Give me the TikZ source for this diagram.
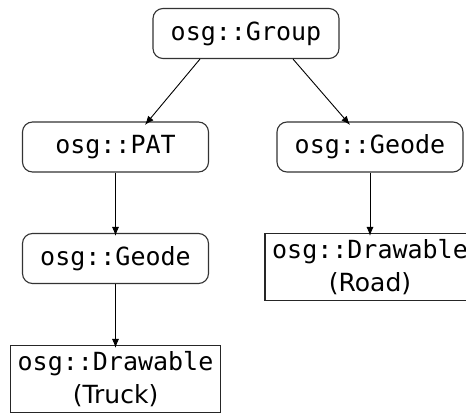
\documentclass[tikz,border=0pt]{standalone}
\usepackage{fontspec}
\setmonofont{DejaVu Sans Mono}
\setsansfont{DejaVu Sans}
\usetikzlibrary{arrows.meta}

\tikzset{
  cls/.style={draw=black!80, line width=1.1pt, rounded corners=10pt,
    minimum width=186pt, minimum height=50pt, inner sep=0pt,
    font=\ttfamily\fontsize{25}{30}\selectfont},
  drw/.style={draw=black!85, line width=1.1pt,
    minimum width=210pt, minimum height=67pt, inner sep=0pt, align=center,
    font=\fontsize{25}{33}\selectfont},
  link/.style={draw=black, line width=0.9pt, -{Latex[length=9pt,width=7pt]}}
}

\begin{document}
\begin{tikzpicture}[x=1pt, y=-1pt]
  \useasboundingbox (0,0) rectangle (466,414);

  % scene graph nodes
  \node[cls] (grp)  at (246,33.5)  {osg::Group};
  \node[cls] (pat)  at (115.5,147) {osg::PAT};
  \node[cls] (geoR) at (370,147)   {osg::Geode};
  \node[cls] (geoL) at (115.5,258.5) {osg::Geode};
  \node[drw] (road)  at (370,267)   {\ttfamily osg::Drawable\\\sffamily (Road)};
  \node[drw] (truck) at (115.5,379) {\ttfamily osg::Drawable\\\sffamily (Truck)};

  % parent-child links
  \draw[link] ([xshift=-46pt]grp.south) -- ([xshift=29.5pt,yshift=-3.5pt]pat.north);
  \draw[link] ([xshift=47pt]grp.south)  -- ([xshift=-20pt,yshift=-3.5pt]geoR.north);
  \draw[link] (pat.south)  -- ([yshift=-3pt]geoL.north);
  \draw[link] (geoR.south) -- ([yshift=-3pt]road.north);
  \draw[link] (geoL.south) -- ([yshift=-3pt]truck.north);
\end{tikzpicture}
\end{document}
